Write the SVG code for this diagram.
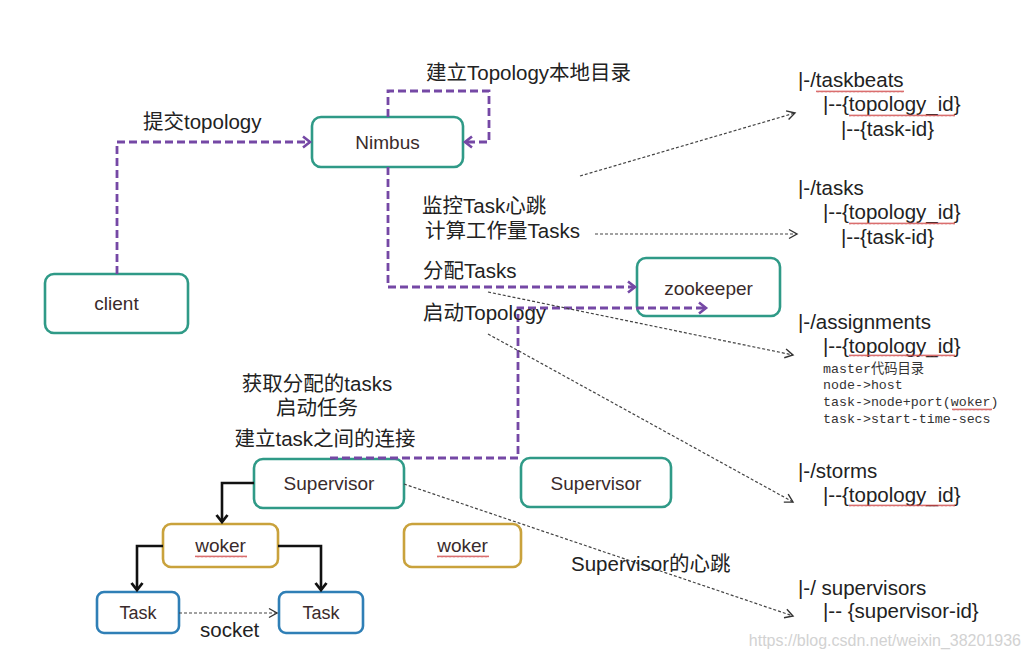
<svg xmlns="http://www.w3.org/2000/svg" width="1028" height="660" viewBox="0 0 1028 660">
<style>
  .lbl { font-family: "Liberation Sans", "Noto Sans CJK SC", sans-serif; font-size: 20.5px; fill: #222; }
  .node { font-family: "Liberation Sans", "Noto Sans CJK SC", sans-serif; font-size: 19px; fill: #3a2b2b; text-anchor: middle; }
  .mono { font-family: "Liberation Mono", "Noto Sans CJK SC", monospace; font-size: 13.3px; fill: #333; }
  .teal { fill: #fff; stroke: #2f9a87; stroke-width: 2.6; }
  .gold { fill: #fff; stroke: #c9a23c; stroke-width: 2.6; }
  .blue { fill: #fff; stroke: #2f7fb6; stroke-width: 2.6; }
  .purple { fill: none; stroke: #7548a5; stroke-width: 2.8; stroke-dasharray: 8 4; marker-end: url(#ap); }
  .thin { fill: none; stroke: #444; stroke-width: 1.2; stroke-dasharray: 3 2; marker-end: url(#ab); }
  .solid { fill: none; stroke: #111; stroke-width: 2.6; marker-end: url(#as); }
  .wave { fill: url(#wavy); }
</style>
<defs>
  <marker id="ap" markerUnits="userSpaceOnUse" markerWidth="14" markerHeight="14" refX="11" refY="7" orient="auto">
    <path d="M4,1.5 L11,7 L4,12.5" fill="none" stroke="#7548a5" stroke-width="2.6"/>
  </marker>
  <marker id="ab" markerUnits="userSpaceOnUse" markerWidth="12" markerHeight="12" refX="10" refY="6" orient="auto">
    <path d="M2,1.5 L10,6 L2,10.5" fill="none" stroke="#333" stroke-width="1.4"/>
  </marker>
  <marker id="as" markerUnits="userSpaceOnUse" markerWidth="14" markerHeight="14" refX="7" refY="11" orient="0">
    <path d="M1.5,4 L7,11 L12.5,4" fill="none" stroke="#111" stroke-width="2.8"/>
  </marker>
  <pattern id="wavy" width="4" height="3" patternUnits="userSpaceOnUse">
    <path d="M0,2.4 L1,0.6 L2,2.4 L3,0.6 L4,2.4" fill="none" stroke="#d04848" stroke-width="0.8"/>
  </pattern>
</defs>
<rect width="1028" height="660" fill="#fff"/>

<g id="client">
  <rect class="teal" x="45" y="274" width="143" height="59" rx="9"/>
  <text class="node" x="116.5" y="310">client</text>
</g>
<g id="nimbus">
  <rect class="teal" x="312" y="117" width="151" height="50" rx="9"/>
  <text class="node" x="387.5" y="149">Nimbus</text>
</g>
<g id="zookeeper">
  <rect class="teal" x="637" y="258" width="143" height="58" rx="9"/>
  <text class="node" x="708.5" y="295">zookeeper</text>
</g>
<g id="supervisor1">
  <rect class="teal" x="254" y="459" width="150" height="49" rx="9"/>
  <text class="node" x="329" y="490">Supervisor</text>
</g>
<g id="supervisor2">
  <rect class="teal" x="521" y="458" width="150" height="49" rx="9"/>
  <text class="node" x="596" y="490">Supervisor</text>
</g>
<g id="woker1">
  <rect class="gold" x="163" y="524" width="115" height="43" rx="8"/>
  <text class="node" x="220.5" y="552">woker</text>
  <rect class="wave" x="195" y="555" width="52" height="3"/>
</g>
<g id="woker2">
  <rect class="gold" x="404" y="524" width="117" height="43" rx="8"/>
  <text class="node" x="462.5" y="552">woker</text>
  <rect class="wave" x="437" y="555" width="52" height="3"/>
</g>
<g id="task1">
  <rect class="blue" x="97" y="592" width="82" height="41" rx="7"/>
  <text class="node" x="138" y="619" style="font-size:18px">Task</text>
</g>
<g id="task2">
  <rect class="blue" x="279" y="592" width="84" height="41" rx="7"/>
  <text class="node" x="321" y="619" style="font-size:18px">Task</text>
</g>

<g id="connectors">
  <path class="purple" d="M117,274 V142 H310"/>
  <path class="purple" d="M388,117 V91 H489 V142 H465"/>
  <path class="purple" d="M388,167 V287 H635"/>
  <path class="purple" d="M330,458 H518 V308 H706"/>
  <path class="thin" d="M580,176 L795,113"/>
  <path class="thin" d="M595,234 L797,234"/>
  <path class="thin" d="M488,292 L793,355"/>
  <path class="thin" d="M488,334 L793,502"/>
  <path class="thin" d="M404,484 L793,616"/>
  <path class="thin" d="M179,613 L277,613"/>
  <path class="solid" d="M254,483 H222 V522"/>
  <path class="solid" d="M163,546 H137 V590"/>
  <path class="solid" d="M278,546 H321 V590"/>
</g>

<g id="labels">
  <text class="lbl" x="143" y="129">提交topology</text>
  <text class="lbl" x="426" y="80">建立Topology本地目录</text>
  <text class="lbl" x="422" y="213">监控Task心跳</text>
  <text class="lbl" x="425" y="238">计算工作量Tasks</text>
  <text class="lbl" x="423" y="278">分配Tasks</text>
  <text class="lbl" x="423" y="320">启动Topology</text>
  <text class="lbl" x="317" y="391" text-anchor="middle">获取分配的tasks</text>
  <text class="lbl" x="317" y="415" text-anchor="middle">启动任务</text>
  <text class="lbl" x="325" y="446" text-anchor="middle">建立task之间的连接</text>
  <text class="lbl" x="571" y="571">Supervisor的心跳</text>
  <text class="lbl" x="200" y="637">socket</text>
</g>

<g id="zk-tree">
  <text class="lbl" x="798" y="87">|-/taskbeats</text>
  <rect class="wave" x="816" y="90" width="88" height="3"/>
  <text class="lbl" x="823" y="111">|--{topology_id}</text>
  <rect class="wave" x="849" y="114" width="106" height="3"/>
  <text class="lbl" x="841" y="136">|--{task-id}</text>

  <text class="lbl" x="798" y="195">|-/tasks</text>
  <text class="lbl" x="823" y="219">|--{topology_id}</text>
  <rect class="wave" x="849" y="222" width="106" height="3"/>
  <text class="lbl" x="841" y="244">|--{task-id}</text>

  <text class="lbl" x="798" y="329">|-/assignments</text>
  <text class="lbl" x="823" y="353">|--{topology_id}</text>
  <rect class="wave" x="849" y="354" width="106" height="3"/>
  <text class="mono" x="823" y="373">master代码目录</text>
  <text class="mono" x="823" y="389">node-&gt;host</text>
  <text class="mono" x="823" y="406">task-&gt;node+port(woker)</text>
  <rect class="wave" x="952" y="408" width="40" height="3"/>
  <text class="mono" x="823" y="423">task-&gt;start-time-secs</text>

  <text class="lbl" x="798" y="478">|-/storms</text>
  <text class="lbl" x="823" y="502">|--{topology_id}</text>
  <rect class="wave" x="849" y="504" width="106" height="3"/>

  <text class="lbl" x="798" y="595">|-/ supervisors</text>
  <text class="lbl" x="823" y="618">|-- {supervisor-id}</text>
</g>

<text x="1021" y="646" text-anchor="end" style="font-family:'Liberation Sans',sans-serif;font-size:16px;fill:#d2d2d2">https://blog.csdn.net/weixin_38201936</text>
</svg>
